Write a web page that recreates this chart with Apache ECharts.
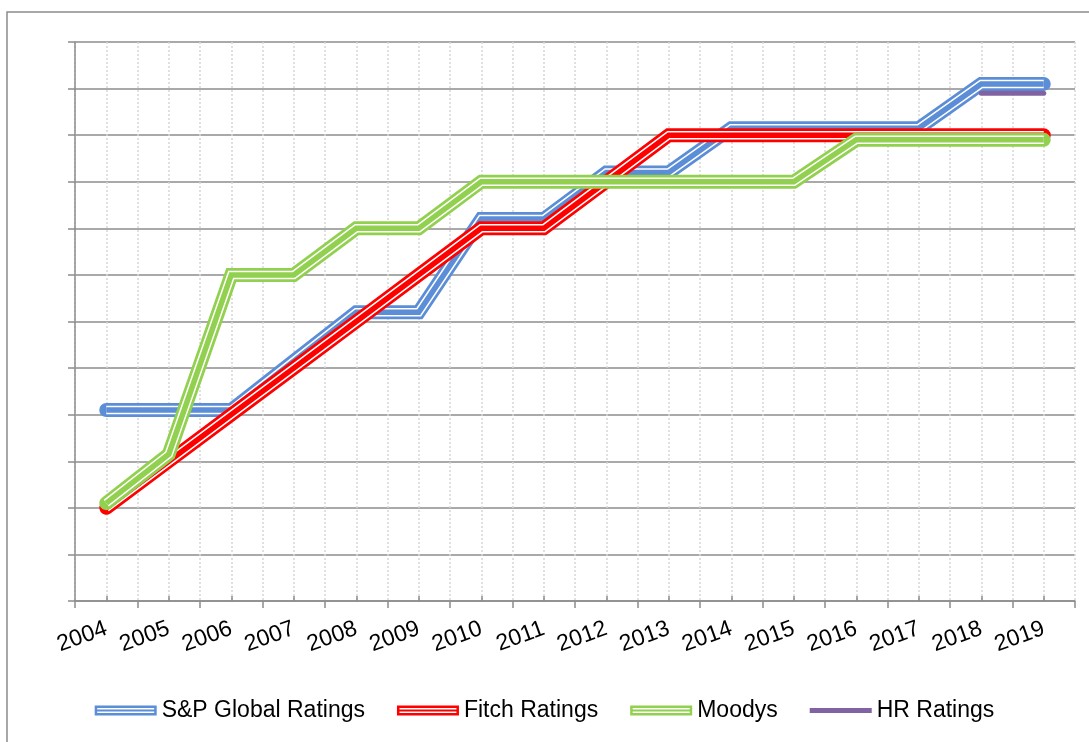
<!DOCTYPE html>
<html>
<head>
<meta charset="utf-8">
<script src="https://cdn.jsdelivr.net/npm/echarts@6/dist/echarts.min.js"></script>
<style>
  html, body { margin: 0; padding: 0; background: #fff; }
  #chart { width: 1089px; height: 742px; }
</style>
</head>
<body>
<div id="chart"></div>
<script>
// data (rating steps, y axis has no labels)
const years = ['2004', '2005', '2006', '2007', '2008', '2009', '2010', '2011',
               '2012', '2013', '2014', '2015', '2016', '2017', '2018', '2019'];
const spValues     = [4.1, 4.1, 4.1, 5.15, 6.2, 6.2, 8.2, 8.2, 9.2, 9.2, 10.15, 10.15, 10.15, 10.15, 11.1, 11.1];
const fitchValues  = [2, 3, 4, 5, 6, 7, 8, 8, 9, 10, 10, 10, 10, 10, 10, 10];
const moodysValues = [2.1, 3.15, 7, 7, 8, 8, 9, 9, 9, 9, 9, 9, 9.9, 9.9, 9.9, 9.9];
const hrValues     = [null, null, null, null, null, null, null, null,
                      null, null, null, null, null, null, 10.9, 10.9];

const seriesNames = ['S&P Global Ratings', 'Fitch Ratings', 'Moodys', 'HR Ratings'];
const colors = ['#5B8ED6', '#FF0000', '#92D050', '#8064A2'];

const FONT = 'Liberation Sans';
const GRID_GRAY = '#8C8C8C';

// Excel "thin-thick-thin" compound line: colored wide line, white gap, colored core
function compoundLine(name, data, color) {
  const base = { type: 'line', data: data, symbol: 'none', silent: true, animation: false };
  return [
    Object.assign({}, base, { name: name, lineStyle: { color: color, width: 14, cap: 'round', join: 'miter' }, itemStyle: { color: color } }),
    Object.assign({}, base, { name: name + ' gap', lineStyle: { color: '#fff', width: 8.5, cap: 'butt', join: 'miter' } }),
    Object.assign({}, base, { name: name + ' core', lineStyle: { color: color, width: 5.5, cap: 'butt', join: 'miter' } })
  ];
}

// legend icon: outlined bar with a line inside
const doubleIcon = 'path://M0,0 H62 V10 H0 Z M2.5,2.5 V7.5 H59.5 V2.5 Z M2.5,4 H59.5 V6 H2.5 Z';
const singleIcon = 'path://M0,2.5 H62 V7.5 H0 Z';

const myChart = echarts.init(document.getElementById('chart'));

const option = {
  backgroundColor: '#fff',
  animation: false,
  graphic: [{
    type: 'rect',
    shape: { x: 7, y: 12, width: 1200, height: 900 },
    style: { fill: 'none', stroke: GRID_GRAY, lineWidth: 1.5 },
    silent: true
  }],
  grid: { left: 75, right: 14, top: 42, bottom: 141 },
  legend: {
    top: 694,
    left: 'center',
    itemWidth: 62,
    itemHeight: 10,
    itemGap: 32,
    textStyle: { fontFamily: FONT, fontSize: 23, color: '#000' },
    data: seriesNames.map((n, i) => ({
      name: n,
      icon: i === 3 ? singleIcon : doubleIcon,
      itemStyle: { color: colors[i], borderWidth: 0 }
    }))
  },
  xAxis: [
    {
      type: 'category',
      data: years,
      boundaryGap: true,
      axisLine: { lineStyle: { color: GRID_GRAY, width: 1.5 } },
      axisTick: { show: true, interval: 0, length: 7, lineStyle: { color: GRID_GRAY, width: 1.5 } },
      axisLabel: { interval: 0, rotate: 20, margin: 27, fontFamily: FONT, fontSize: 23, color: '#000' },
      splitLine: { show: false }
    },
    {
      // helper axis: dotted verticals at every half category and small inner ticks at centers
      type: 'value',
      position: 'bottom',
      min: 0, max: 16, interval: 1,
      axisLine: { show: false },
      axisLabel: { show: false },
      axisTick: { show: false, inside: true },
      minorTick: { show: true, splitNumber: 2, length: 5, lineStyle: { color: GRID_GRAY, width: 1.5 } },
      splitLine: { show: true, lineStyle: { color: '#D6D6D6', type: [2, 2], width: 1.5 } },
      minorSplitLine: { show: true, lineStyle: { color: '#D6D6D6', type: [2, 2], width: 1.5 } }
    }
  ],
  yAxis: {
    type: 'value',
    min: 0, max: 12, interval: 1,
    axisLine: { show: true, lineStyle: { color: GRID_GRAY, width: 1.5 } },
    axisTick: { show: true, length: 7, lineStyle: { color: GRID_GRAY, width: 1.5 } },
    axisLabel: { show: false },
    splitLine: { show: true, lineStyle: { color: GRID_GRAY, width: 1.5 } }
  },
  series: [].concat(
    compoundLine(seriesNames[0], spValues, colors[0]),
    compoundLine(seriesNames[1], fitchValues, colors[1]),
    compoundLine(seriesNames[2], moodysValues, colors[2]),
    [{
      name: seriesNames[3], type: 'line', data: hrValues, symbol: 'none', silent: true,
      lineStyle: { color: colors[3], width: 5, cap: 'round' }, itemStyle: { color: colors[3] }
    }]
  )
};

myChart.setOption(option);
</script>
</body>
</html>
